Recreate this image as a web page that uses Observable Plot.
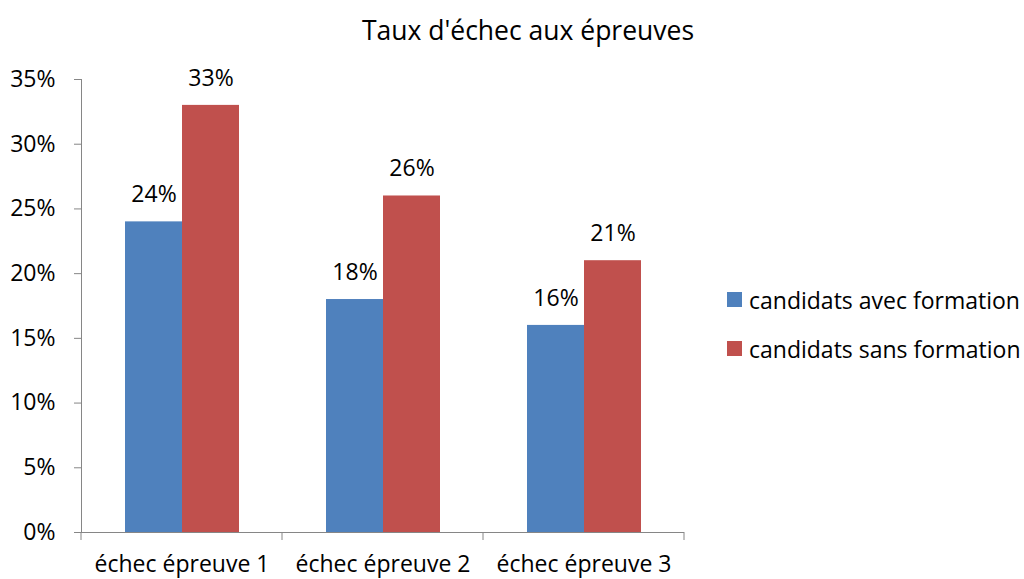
<!DOCTYPE html>
<html>
<head>
<meta charset="utf-8">
<script src="https://cdn.jsdelivr.net/npm/d3@7"></script>
<script src="https://cdn.jsdelivr.net/npm/@observablehq/plot@0.6"></script>
<style>
  body { margin: 0; background: #fff; }
  #wrap { position: relative; width: 1024px; height: 579px; font-family: "Open Sans", sans-serif; }
  #title { height: 60px; line-height: 60px; width: 1024px; text-align: center; font-size: 26.5px; color: #000; padding-left: 32px; box-sizing: border-box; }
  #chart svg text { fill: #000; font-family: "Open Sans", sans-serif; font-size: 23px; }
  #legend { position: absolute; left: 727px; top: 284px; font-size: 23px; color: #000; }
  .item { display: flex; align-items: center; height: 31px; margin-bottom: 18px; white-space: nowrap; }
  .sw { width: 15px; height: 15px; margin-right: 7px; flex: none; }
</style>
</head>
<body>
<div id="wrap">
  <div id="title">Taux d'échec aux épreuves</div>
  <div id="chart"></div>
  <div id="legend"></div>
</div>
<script>
const categories = ["échec épreuve 1", "échec épreuve 2", "échec épreuve 3"];
const series = ["candidats avec formation", "candidats sans formation"];
const avecFormation = [24, 18, 16];
const sansFormation = [33, 26, 21];
const yTicks = [0, 5, 10, 15, 20, 25, 30, 35];
const colors = ["#4F81BD", "#C0504D"];

const data = categories.flatMap((c, i) => [
  {cat: c, serie: series[0], value: avecFormation[i]},
  {cat: c, serie: series[1], value: sansFormation[i]}
]);

const axisColor = "#868686";

const chart = Plot.plot({
  width: 1024,
  height: 519,
  marginTop: 19,
  marginBottom: 47,
  marginLeft: 81,
  marginRight: 340,
  facet: {data: data, x: "cat"},
  fx: {domain: categories, padding: 0, axis: "bottom", tickSize: 0, tickPadding: 23, label: null},
  x: {domain: series, axis: null, paddingInner: 0, paddingOuter: 0.763},
  y: {domain: [0, 35], ticks: yTicks, tickFormat: d => d + "%", tickSize: 7, tickPadding: 19, line: true, label: null},
  color: {domain: series, range: colors},
  style: {fontFamily: "'Open Sans', sans-serif", fontSize: "23px", color: axisColor, background: "white", overflow: "visible"},
  marks: [
    Plot.barY(data, {x: "serie", y: "value", fill: "serie"}),
    Plot.text(data, {x: "serie", y: "value", text: d => d.value + "%", dy: -27, fill: "#000"}),
    Plot.ruleY([0], {stroke: axisColor})
  ]
});
document.getElementById("chart").appendChild(chart);

// boundary ticks between categories on the x axis, from the plot's own scales
try {
  const fx = chart.scale("fx");
  const ys = chart.scale("y");
  const band = d3.scaleBand().domain(fx.domain).range(fx.range).padding(0);
  const y0 = d3.scaleLinear().domain(ys.domain).range(ys.range)(0);
  const edges = fx.domain.map(d => band(d)).concat([band(fx.domain[fx.domain.length - 1]) + band.bandwidth()]);
  const g = d3.select(chart).append("g").attr("stroke", axisColor);
  g.selectAll("line").data(edges).join("line")
    .attr("x1", d => d).attr("x2", d => d)
    .attr("y1", y0).attr("y2", y0 + 8);
} catch (e) { console.error(e); }

const legend = d3.select("#legend");
series.forEach((s, i) => {
  const item = legend.append("div").attr("class", "item");
  item.append("div").attr("class", "sw").style("background", colors[i]);
  item.append("span").text(s);
});
</script>
</body>
</html>
